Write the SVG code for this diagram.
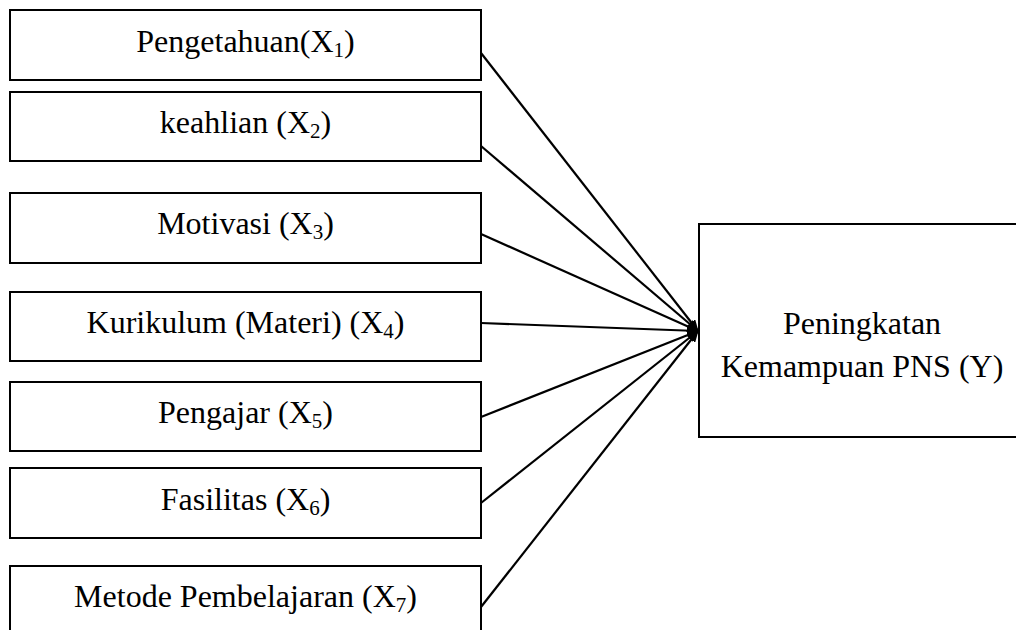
<svg xmlns="http://www.w3.org/2000/svg" width="1016" height="630" viewBox="0 0 1016 630">
<style>
.box{fill:#fff;stroke:#000;stroke-width:2}
.t{font-family:"Liberation Serif","Times New Roman",serif;font-size:32px;fill:#000;text-anchor:middle}
.s{font-size:21px}
.c{stroke:#000;stroke-width:2.2;fill:none;marker-end:url(#ah)}
</style>
<defs>
<marker id="ah" markerWidth="12" markerHeight="10" refX="11" refY="5" orient="auto" markerUnits="userSpaceOnUse">
<path d="M0,0 L12,5 L0,10 Z" fill="#000"/>
</marker>
</defs>
<rect width="1016" height="630" fill="#fff"/>
<g id="x1"><rect class="box" x="10" y="10" width="471" height="70"/><text class="t" x="245.5" y="52">Pengetahuan(X<tspan class="s" dy="5">1</tspan><tspan dy="-5">)</tspan></text></g>
<g id="x2"><rect class="box" x="10" y="92" width="471" height="69"/><text class="t" x="245.5" y="133">keahlian (X<tspan class="s" dy="5">2</tspan><tspan dy="-5">)</tspan></text></g>
<g id="x3"><rect class="box" x="10" y="193" width="471" height="70"/><text class="t" x="245.5" y="234">Motivasi (X<tspan class="s" dy="5">3</tspan><tspan dy="-5">)</tspan></text></g>
<g id="x4"><rect class="box" x="10" y="292" width="471" height="69"/><text class="t" x="245.5" y="333">Kurikulum (Materi) (X<tspan class="s" dy="5">4</tspan><tspan dy="-5">)</tspan></text></g>
<g id="x5"><rect class="box" x="10" y="382" width="471" height="69"/><text class="t" x="245.5" y="423">Pengajar (X<tspan class="s" dy="5">5</tspan><tspan dy="-5">)</tspan></text></g>
<g id="x6"><rect class="box" x="10" y="468" width="471" height="70"/><text class="t" x="245.5" y="510">Fasilitas (X<tspan class="s" dy="5">6</tspan><tspan dy="-5">)</tspan></text></g>
<g id="x7"><rect class="box" x="10" y="566" width="471" height="80"/><text class="t" x="245.5" y="607">Metode Pembelajaran (X<tspan class="s" dy="5">7</tspan><tspan dy="-5">)</tspan></text></g>
<g id="y"><rect class="box" x="699" y="224" width="330" height="213"/><text class="t" x="862" y="334">Peningkatan</text><text class="t" x="862" y="377">Kemampuan PNS (Y)</text></g>
<g id="connectors">
<line class="c" x1="481" y1="53" x2="698" y2="331"/>
<line class="c" x1="481" y1="146" x2="698" y2="331"/>
<line class="c" x1="481" y1="234" x2="698" y2="331"/>
<line class="c" x1="481" y1="323" x2="698" y2="331"/>
<line class="c" x1="481" y1="417" x2="698" y2="331"/>
<line class="c" x1="481" y1="503" x2="698" y2="331"/>
<line class="c" x1="481" y1="607" x2="698" y2="331"/>
</g>
</svg>
